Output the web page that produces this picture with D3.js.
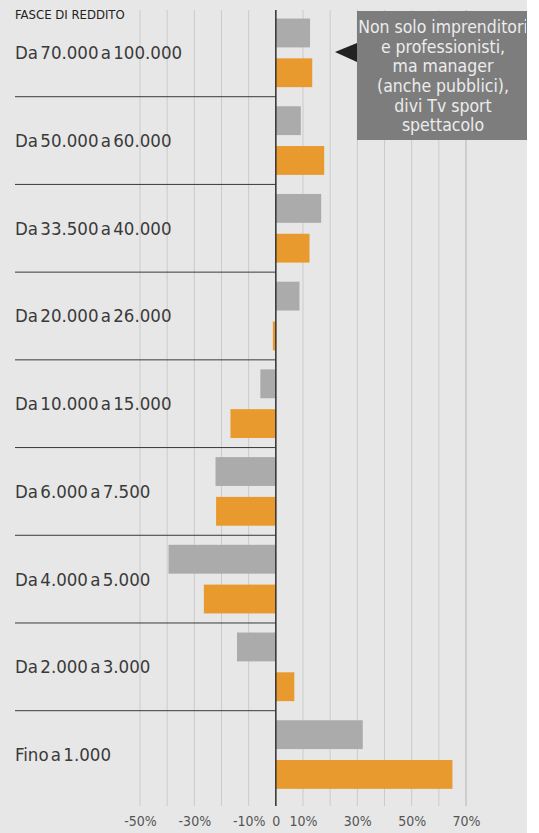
<!DOCTYPE html>
<html>
<head>
<meta charset="utf-8">
<script src="https://cdn.jsdelivr.net/npm/d3@7"></script>
<style>
  html, body { margin: 0; padding: 0; background: #fff; }
  svg { display: block; }
  .label { font-family: 'Liberation Sans Narrow', 'DejaVu Sans Condensed', Roboto, sans-serif; }
</style>
</head>
<body>
<div id="chart"></div>
<script>
// fasce di reddito, top to bottom
const categories = [
  'Da 70.000 a 100.000',
  'Da 50.000 a 60.000',
  'Da 33.500 a 40.000',
  'Da 20.000 a 26.000',
  'Da 10.000 a 15.000',
  'Da 6.000 a 7.500',
  'Da 4.000 a 5.000',
  'Da 2.000 a 3.000',
  'Fino a 1.000'
];
// variazioni % (grey bar above, orange bar below)
const greyValues = [12.6, 9.2, 16.7, 8.7, -5.7, -22.2, -39.5, -14.3, 32];
const orangeValues = [13.4, 17.8, 12.4, -1.1, -16.7, -22, -26.5, 6.8, 65];
const tickValues = [-50, -30, -10, 0, 10, 30, 50, 70];
const gridValues = [-50, -40, -30, -20, -10, 0, 10, 20, 30, 40, 50, 60, 70];
const headerText = 'FASCE DI REDDITO';
const noteLines = [
  'Non solo imprenditori',
  'e professionisti,',
  'ma manager',
  '(anche pubblici),',
  'divi Tv sport',
  'spettacolo'
];

const W = 539, H = 833;
const svg = d3.select('#chart').append('svg').attr('width', W).attr('height', H);

const x = d3.scaleLinear().domain([-50, 70]).range([140, 466]);
const y = d3.scaleBand().domain(categories).range([9, 798.4]);
const ySub = d3.scaleBand()
  .domain(['grey', 'orange'])
  .range([0, y.bandwidth()])
  .paddingInner(0.275)
  .paddingOuter(0.24);

// background
svg.append('rect').attr('width', 527).attr('height', H).attr('fill', '#e7e7e7');

// vertical gridlines
svg.append('g')
  .selectAll('line')
  .data(gridValues)
  .join('line')
  .attr('x1', d => x(d))
  .attr('x2', d => x(d))
  .attr('y1', 10)
  .attr('y2', 806)
  .attr('stroke', d => (d === 70 ? '#b4b4b4' : '#cbcbcb'))
  .attr('stroke-width', 1);

// bars
const rows = svg.append('g')
  .selectAll('g')
  .data(categories.map((c, i) => ({ cat: c, grey: greyValues[i], orange: orangeValues[i] })))
  .join('g')
  .attr('transform', d => 'translate(0,' + y(d.cat) + ')');

rows.append('rect')
  .attr('x', d => x(Math.min(0, d.grey)))
  .attr('width', d => Math.abs(x(d.grey) - x(0)))
  .attr('y', ySub('grey'))
  .attr('height', ySub.bandwidth())
  .attr('fill', '#ababab');

rows.append('rect')
  .attr('x', d => x(Math.min(0, d.orange)))
  .attr('width', d => Math.abs(x(d.orange) - x(0)))
  .attr('y', ySub('orange'))
  .attr('height', ySub.bandwidth())
  .attr('fill', '#e99a2e');

// row separators
svg.append('g')
  .selectAll('line')
  .data(categories.slice(0, -1))
  .join('line')
  .attr('x1', 15)
  .attr('x2', x(0))
  .attr('y1', d => y(d) + y.step())
  .attr('y2', d => y(d) + y.step())
  .attr('stroke', '#3a3a3a')
  .attr('stroke-width', 1);

// zero line
svg.append('line')
  .attr('x1', x(0)).attr('x2', x(0))
  .attr('y1', 10).attr('y2', 806)
  .attr('stroke', '#333')
  .attr('stroke-width', 1.5);

// category labels
svg.append('g')
  .selectAll('text')
  .data(categories)
  .join('text')
  .attr('class', 'label')
  .attr('x', 15)
  .attr('y', d => y(d) + y.bandwidth() / 2)
  .attr('dy', '0.35em')
  .attr('font-size', 18.5)
  .attr('word-spacing', -3)
  .style('fill', '#3a3a3a')
  .text(d => d);

svg.append('text')
  .attr('class', 'label')
  .attr('x', 15)
  .attr('y', 19)
  .attr('font-size', 13)
  .style('fill', '#222')
  .text(headerText);

// x axis
const xAxis = svg.append('g')
  .attr('transform', 'translate(0,806)')
  .call(d3.axisBottom(x).tickValues(tickValues).tickSize(0).tickPadding(10)
    .tickFormat(d => (d === 0 ? '0' : d + '%')));
xAxis.select('.domain').remove();
xAxis.selectAll('text')
  .attr('class', 'label')
  .attr('font-size', 14)
  .style('fill', '#555');

// annotation box
const note = svg.append('g');
note.append('rect')
  .attr('x', 357).attr('y', 11)
  .attr('width', 170).attr('height', 129)
  .attr('fill', '#7d7d7d');
note.append('path')
  .attr('d', 'M335,52L357,43L357,62Z')
  .attr('fill', '#222');
note.append('clipPath').attr('id', 'noteClip')
  .append('rect').attr('x', 357).attr('y', 11).attr('width', 169).attr('height', 129);
note.append('g')
  .attr('clip-path', 'url(#noteClip)')
  .selectAll('text')
  .data(noteLines)
  .join('text')
  .attr('class', 'label')
  .attr('x', 443)
  .attr('y', (d, i) => 27 + i * 19.6)
  .attr('dy', '0.35em')
  .attr('text-anchor', 'middle')
  .attr('font-size', 17.5)
  .style('fill', '#ececec')
  .text(d => d);

// white strip on the right
svg.append('rect').attr('x', 527).attr('width', W - 527).attr('height', H).attr('fill', '#fff');
</script>
</body>
</html>
